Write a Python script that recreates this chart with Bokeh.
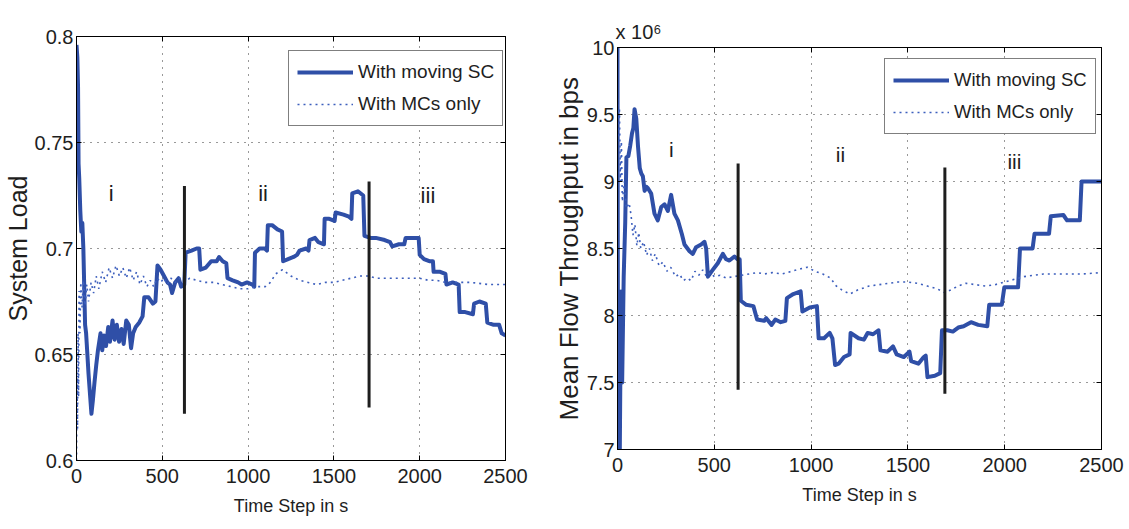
from bokeh.plotting import figure
from bokeh.layouts import row, column
from bokeh.models import (Legend, LegendItem, LinearAxis, FixedTicker, Range1d,
                          CustomJSTickFormatter, Title)
from bokeh.core.properties import value
from bokeh.embed import file_html
from bokeh.resources import INLINE

# ---------------------------------------------------------------- data
x_ticks = [0, 500, 1000, 1500, 2000, 2500]

# System load
load_ticks = [0.6, 0.65, 0.7, 0.75, 0.8]
load_tick_labels = ["0.6", "0.65", "0.7", "0.75", "0.8"]

load_sc_t = [0, 5, 9, 12, 16, 22, 28, 34, 40, 45, 50, 56, 62, 70, 78, 87, 95, 105,
             115, 125, 140, 150, 160, 172, 185, 195, 210, 222, 235, 248, 262, 275,
             290, 305, 318, 330, 345, 365, 385, 395, 420, 445, 460, 472, 490, 510,
             530, 545, 557, 575, 595, 610, 628, 636, 670, 700, 715, 722, 754, 785,
             817, 831, 852, 873, 880, 910, 942, 962, 994, 1025, 1036, 1040, 1067,
             1098, 1110, 1115, 1140, 1171, 1198, 1204, 1233, 1265, 1285, 1300, 1338,
             1352, 1358, 1390, 1410, 1442, 1446, 1473, 1504, 1510, 1556, 1588, 1602,
             1607, 1640, 1671, 1678, 1713, 1744, 1796, 1827, 1840, 1879, 1910, 1918,
             1952, 1994, 2000, 2025, 2056, 2077, 2081, 2119, 2150, 2156, 2192, 2227,
             2233, 2265, 2310, 2317, 2348, 2385, 2394, 2431, 2463, 2478, 2500]
load_sc = [0.796, 0.790, 0.776, 0.740, 0.733, 0.718, 0.708, 0.712, 0.700, 0.682,
           0.664, 0.660, 0.652, 0.641, 0.632, 0.622, 0.628, 0.637, 0.645, 0.652,
           0.660, 0.652, 0.659, 0.654, 0.663, 0.656, 0.666, 0.657, 0.664, 0.656,
           0.662, 0.655, 0.666, 0.664, 0.653, 0.660, 0.663, 0.665, 0.668, 0.677,
           0.677, 0.674, 0.675, 0.692, 0.690, 0.687, 0.684, 0.683, 0.679, 0.684,
           0.686, 0.682, 0.683, 0.698, 0.699, 0.700, 0.700, 0.690, 0.691, 0.694,
           0.694, 0.696, 0.694, 0.693, 0.686, 0.685, 0.684, 0.683, 0.684, 0.683,
           0.682, 0.698, 0.700, 0.700, 0.699, 0.711, 0.711, 0.709, 0.708, 0.694,
           0.695, 0.696, 0.697, 0.699, 0.700, 0.699, 0.704, 0.705, 0.703, 0.702,
           0.714, 0.714, 0.713, 0.717, 0.716, 0.715, 0.714, 0.726, 0.727, 0.725,
           0.706, 0.705, 0.705, 0.704, 0.703, 0.701, 0.702, 0.702, 0.705, 0.705,
           0.705, 0.697, 0.695, 0.694, 0.694, 0.689, 0.689, 0.688, 0.683, 0.684,
           0.683, 0.670, 0.670, 0.669, 0.674, 0.675, 0.674, 0.665, 0.664, 0.664,
           0.660, 0.659]

load_mc_t = [0, 3, 6, 9, 12, 15, 20, 25, 32, 40, 50, 60, 70, 85, 100, 115, 130, 150,
             170, 190, 210, 230, 250, 270, 290, 310, 330, 350, 370, 390, 410, 430,
             450, 470, 490, 510, 530, 550, 575, 600, 630, 660, 700, 750, 800, 850,
             900, 950, 1000, 1050, 1100, 1130, 1160, 1200, 1250, 1300, 1350, 1400,
             1450, 1500, 1550, 1600, 1650, 1700, 1750, 1800, 1850, 1900, 1950, 2000,
             2050, 2100, 2150, 2200, 2300, 2400, 2500]
load_mc = [0.600, 0.640, 0.615, 0.660, 0.630, 0.680, 0.660, 0.684, 0.672, 0.685,
           0.673, 0.683, 0.675, 0.684, 0.679, 0.687, 0.681, 0.689, 0.684, 0.691,
           0.686, 0.692, 0.687, 0.691, 0.686, 0.691, 0.685, 0.689, 0.683, 0.687,
           0.682, 0.685, 0.682, 0.686, 0.684, 0.686, 0.683, 0.686, 0.684, 0.686,
           0.684, 0.686, 0.685, 0.684, 0.684, 0.683, 0.682, 0.681, 0.681, 0.682,
           0.682, 0.684, 0.688, 0.690, 0.687, 0.685, 0.684, 0.683, 0.684, 0.684,
           0.685, 0.686, 0.687, 0.687, 0.686, 0.686, 0.686, 0.686, 0.686, 0.686,
           0.685, 0.685, 0.684, 0.684, 0.684, 0.683, 0.683]

# Mean flow throughput (x 10^6 bps)
thr_ticks = [7, 7.5, 8, 8.5, 9, 9.5, 10]
thr_tick_labels = ["7", "7.5", "8", "8.5", "9", "9.5", "10"]

thr_sc_t = [0, 3, 12, 18, 24, 32, 40, 46, 56, 66, 75, 82, 88, 97, 106, 115, 123, 131,
            140, 150, 157, 174, 191, 208, 226, 243, 260, 277, 294, 312, 332, 346, 372,
            389, 406, 432, 449, 458, 467, 492, 518, 544, 561, 578, 604, 620, 631, 637,
            665, 702, 721, 758, 768, 796, 815, 843, 867, 875, 908, 946, 955, 993, 1030,
            1039, 1067, 1096, 1110, 1124, 1142, 1170, 1199, 1204, 1245, 1273, 1292,
            1320, 1348, 1358, 1395, 1423, 1442, 1479, 1508, 1517, 1554, 1582, 1592,
            1601, 1639, 1667, 1676, 1704, 1732, 1760, 1788, 1826, 1863, 1910, 1920,
            1985, 1998, 2069, 2079, 2144, 2154, 2229, 2238, 2303, 2322, 2388, 2397,
            2500]
thr_sc = [10.0, 7.0, 7.0, 8.18, 7.50, 8.29, 8.70, 9.18, 9.19, 9.27, 9.36, 9.40, 9.54,
          9.47, 9.26, 9.10, 9.06, 9.04, 8.93, 8.96, 8.95, 8.91, 8.76, 8.71, 8.81, 8.83,
          8.78, 8.90, 8.76, 8.71, 8.61, 8.53, 8.48, 8.46, 8.51, 8.53, 8.55, 8.50, 8.29,
          8.34, 8.39, 8.46, 8.42, 8.41, 8.44, 8.42, 8.42, 8.11, 8.08, 8.07, 7.97, 7.96,
          7.98, 7.93, 7.97, 7.95, 7.96, 8.13, 8.16, 8.18, 8.03, 8.06, 8.07, 7.83, 7.83,
          7.87, 7.83, 7.63, 7.64, 7.69, 7.71, 7.87, 7.83, 7.82, 7.87, 7.86, 7.89, 7.74,
          7.73, 7.77, 7.71, 7.69, 7.73, 7.66, 7.64, 7.69, 7.70, 7.54, 7.55, 7.57, 7.89,
          7.89, 7.88, 7.91, 7.92, 7.95, 7.93, 7.92, 8.08, 8.08, 8.21, 8.21, 8.50, 8.50,
          8.61, 8.61, 8.74, 8.75, 8.71, 8.71, 9.00, 9.00]

thr_mc_t = [0, 5, 10, 15, 20, 25, 35, 45, 60, 70, 80, 90, 100, 110, 120, 135, 150,
            165, 180, 195, 215, 235, 255, 275, 300, 320, 340, 360, 380, 400, 420, 440,
            460, 480, 500, 530, 560, 600, 640, 680, 720, 760, 800, 850, 900, 950, 980,
            1020, 1060, 1100, 1130, 1160, 1200, 1240, 1300, 1350, 1400, 1450, 1500,
            1550, 1600, 1650, 1690, 1720, 1760, 1800, 1850, 1900, 1950, 2000, 2050,
            2100, 2150, 2200, 2300, 2400, 2500]
thr_mc = [9.62, 9.30, 9.55, 9.00, 9.30, 8.85, 9.00, 8.80, 8.84, 8.75, 8.60, 8.68,
          8.52, 8.62, 8.50, 8.55, 8.45, 8.50, 8.41, 8.46, 8.37, 8.40, 8.33, 8.36, 8.29,
          8.31, 8.26, 8.28, 8.26, 8.33, 8.30, 8.34, 8.29, 8.32, 8.29, 8.30, 8.28, 8.29,
          8.30, 8.31, 8.32, 8.31, 8.32, 8.31, 8.33, 8.35, 8.36, 8.33, 8.31, 8.28, 8.22,
          8.19, 8.16, 8.19, 8.22, 8.23, 8.24, 8.25, 8.25, 8.24, 8.22, 8.20, 8.17, 8.19,
          8.22, 8.24, 8.23, 8.22, 8.23, 8.25, 8.27, 8.29, 8.30, 8.31, 8.31, 8.31, 8.32]

# phase boundaries and phase names
load_bound_t = [629, 1705]
load_bound_lo = [0.622, 0.625]
load_bound_hi = [0.7295, 0.7316]
load_phase_t = [202, 1087, 2048]
load_phase_y = [0.726, 0.726, 0.725]

thr_bound_t = [623, 1691]
thr_bound_lo = [7.445, 7.416]
thr_bound_hi = [9.135, 9.105]
thr_phase_t = [278, 1152, 2050]
thr_phase_y = [9.24, 9.205, 9.15]

phase_names = ["i", "ii", "iii"]
series_names = ["With moving SC", "With MCs only"]

# ---------------------------------------------------------------- style
SANS = "Liberation Sans"
BLUE = "#2f4fa7"
BLUE_DOT = "#3d5fbd"
INK = "#1e1e1e"

blank = CustomJSTickFormatter(code="return ''")


def make_panel(t_sc, y_sc, t_mc, y_mc, yr, yticks, ylabels, ylabel, ylabel_fs,
               bound_t, bound_lo, bound_hi, phase_t, phase_y,
               fw, fh, bl, br, bt, bb, legend_xy, legend_fs, phase_fs):
    p = figure(frame_width=fw, frame_height=fh, title=None,
               min_border_left=bl, min_border_right=br,
               min_border_top=bt, min_border_bottom=bb,
               x_range=Range1d(0, 2500), y_range=Range1d(*yr),
               output_backend="svg", toolbar_location=None)
    p.background_fill_color = "white"
    p.border_fill_color = "white"
    p.outline_line_color = "black"
    p.outline_line_width = 1

    p.xaxis.ticker = FixedTicker(ticks=x_ticks)
    p.yaxis.ticker = FixedTicker(ticks=yticks)
    p.yaxis.major_label_overrides = {v: s for v, s in zip(yticks, ylabels)}
    for ax in (p.xaxis[0], p.yaxis[0]):
        ax.axis_line_color = "black"
        ax.major_tick_in = 5
        ax.major_tick_out = 0
        ax.major_tick_line_color = "black"
        ax.minor_tick_line_color = None
        ax.major_label_text_font = SANS
        ax.major_label_text_font_size = "20px"
        ax.major_label_text_color = INK
        ax.axis_label_text_font = SANS
        ax.axis_label_text_font_style = "normal"
        ax.axis_label_text_color = INK
    p.xaxis[0].axis_label = "Time Step in s"
    p.xaxis[0].axis_label_text_font_size = "18px"
    p.xaxis[0].major_label_standoff = 8
    p.xaxis[0].axis_label_standoff = 10
    p.yaxis[0].axis_label = ylabel
    p.yaxis[0].axis_label_text_font_size = ylabel_fs
    p.yaxis[0].major_label_standoff = 3
    p.yaxis[0].axis_label_standoff = 0

    # tick marks on the top and right edges of the box
    for loc, ticks in (("above", x_ticks), ("right", yticks)):
        ax = LinearAxis(ticker=FixedTicker(ticks=ticks), formatter=blank,
                        major_label_standoff=0,
                        major_tick_in=5, major_tick_out=0,
                        minor_tick_line_color=None,
                        axis_line_color="black")
        p.add_layout(ax, loc)

    p.grid.grid_line_color = "#333333"
    p.grid.grid_line_dash = "1 6"
    p.grid.grid_line_width = 1

    r_sc = p.line(t_sc, y_sc, line_color=BLUE, line_width=4, line_join="round")
    r_mc = p.line(t_mc, y_mc, line_color=BLUE_DOT, line_width=1.6, line_dash="2 4")

    p.segment(x0=bound_t, y0=bound_lo, x1=bound_t, y1=bound_hi,
              line_color=INK, line_width=3)
    p.text(x=phase_t, y=phase_y, text=phase_names,
           text_font=value(SANS), text_font_size=phase_fs,
           text_align="center", text_baseline="middle", text_color=INK)

    legend = Legend(items=[LegendItem(label=series_names[0], renderers=[r_sc]),
                           LegendItem(label=series_names[1], renderers=[r_mc])],
                    location=legend_xy, margin=0, padding=8, spacing=6,
                    glyph_width=56, glyph_height=26, label_height=26,
                    label_standoff=5, label_text_font=SANS,
                    label_text_font_size=legend_fs, label_text_color=INK,
                    border_line_color="black", border_line_width=1,
                    background_fill_color="white", background_fill_alpha=1)
    p.add_layout(legend)
    return p


p_load = make_panel(load_sc_t, load_sc, load_mc_t, load_mc, (0.6, 0.8),
                    load_ticks, load_tick_labels, "System Load", "25px",
                    load_bound_t, load_bound_lo, load_bound_hi,
                    load_phase_t, load_phase_y,
                    429, 424, 76, 45, 36, 69, (212, 334), "19px", "22px")

p_thr = make_panel(thr_sc_t, thr_sc, thr_mc_t, thr_mc, (7, 10),
                   thr_ticks, thr_tick_labels, "Mean Flow Throughput in bps", "26px",
                   thr_bound_t, thr_bound_lo, thr_bound_hi,
                   thr_phase_t, thr_phase_y,
                   484, 402, 66, 28, 47, 80, (267, 315), "18.5px", "21px")

# axis multiplier above the throughput panel
p_thr.add_layout(Title(text="x 10\u2076", align="left", text_font=SANS,
                       text_font_size="20px", text_font_style="normal",
                       text_color=INK, standoff=10, offset=-2), "above")

# each panel keeps its own borders
layout = row(column(p_load), column(p_thr))
open("out.html", "w").write(file_html(layout, INLINE))
